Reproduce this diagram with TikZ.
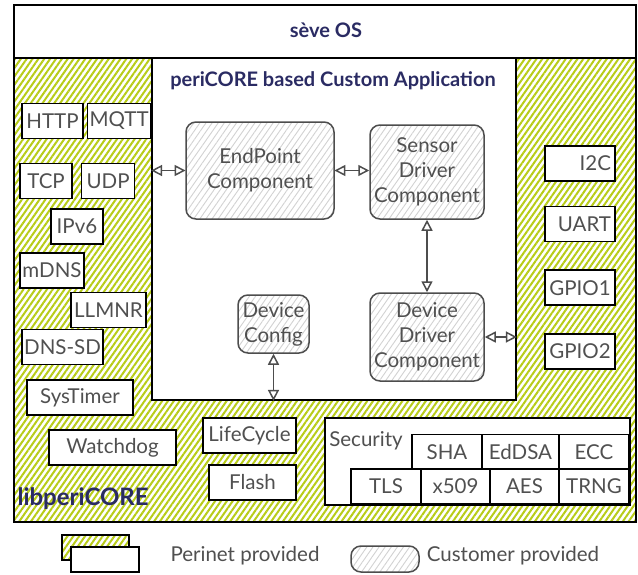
\documentclass[tikz,border=0pt]{standalone}
\usepackage{fontspec}
\setmainfont{Lato}
\usepackage{tikz}
\usetikzlibrary{arrows.meta, positioning, fit, patterns.meta}
\definecolor{hatchgreen}{HTML}{B8CC18}
\definecolor{custgray}{HTML}{D2D2D2}
\definecolor{linegray}{HTML}{4D4D4D}
\definecolor{txtgray}{HTML}{505050}
\definecolor{titleblue}{HTML}{2A2B63}
\tikzstyle{block} = [draw=black, line width=1.6pt, fill=white, text=txtgray, inner sep=2pt, minimum height=35pt]
\tikzstyle{custom} = [draw=linegray, line width=1.5pt, rounded corners=10pt, pattern={Lines[angle=55,distance=5pt,line width=0.9pt]}, pattern color=custgray, text=txtgray, align=center, inner sep=0pt]
\tikzstyle{lib} = [draw=black, line width=1.4pt, pattern={Lines[angle=55,distance=4.8pt,line width=2pt]}, pattern color=hatchgreen]
\tikzstyle{frame} = [draw=black, line width=1.8pt, fill=white, inner sep=0pt]
\tikzstyle{title} = [text=titleblue, font=\fontsize{20}{25}\selectfont\bfseries]
\tikzstyle{arrow} = [line width=1.5pt, draw=linegray, {Triangle[open,length=11pt,width=11pt]}-{Triangle[open,length=11pt,width=11pt]}]

\begin{document}
\begin{tikzpicture}[x=1pt, y=-1pt, font=\fontsize{20.5}{25}\selectfont]
        \useasboundingbox (0,0) rectangle (638,574);
        \fill[white] (0,0) rectangle (638,574);

        \node(lib) [lib, fit={(14,58) (636,522)}, inner sep=0pt] {};
        \node(seve) [frame, fit={(14,5) (636,58)}] {};
        \node(sevetitle) [title] at (326,30) {sève OS};
        \node(app) [frame, fit={(152,58) (516,400)}] {};
        \node(apptitle) [title] at (333,81) {periCORE based Custom Application};
        \node(libtitle) [title, font=\fontsize{24}{28}\selectfont\bfseries, anchor=west] at (14,499) {libperiCORE};

        \node(http) [block, minimum width=61pt] at (52.5,121) {HTTP};
        \node(mqtt) [block, minimum width=62pt, right=3pt of http] {MQTT};
        \node(tcp) [block, minimum width=52pt] at (46,181) {TCP};
        \node(udp) [block, minimum width=53pt, right=8pt of tcp] {UDP};
        \node(ipv6) [block, minimum width=52pt] at (77,226.5) {IPv6};
        \node(mdns) [block, minimum width=64pt] at (52,270.5) {mDNS};
        \node(llmnr) [block, minimum width=75pt] at (108.5,310) {LLMNR};
        \node(dnssd) [block, minimum width=81pt] at (62.5,347) {DNS-SD};
        \node(systimer) [block, minimum width=106pt] at (80,397.5) {SysTimer};
        \node(watchdog) [block, minimum width=127pt] at (112.5,447.5) {Watchdog};
        \node(lifecycle) [block, minimum width=93pt] at (249.5,435.5) {LifeCycle};
        \node(flash) [block, minimum width=87pt] at (252.5,482.5) {Flash};

        \node(i2c) [block, minimum width=70pt, text width=62pt, align=right] at (580,163.5) {I2C};
        \node(uart) [block, minimum width=70pt, text width=62pt, align=right, below=24pt of i2c] {UART};
        \node(gpio1) [block, minimum width=70pt, text width=66pt, align=center, below=27pt of uart] {GPIO1};
        \node(gpio2) [block, minimum width=70pt, text width=66pt, align=center, below=27pt of gpio1] {GPIO2};

        \node(endpoint) [custom, minimum width=148pt, minimum height=97pt] at (260,170.5) {EndPoint\\Component};
        \node(sensor) [custom, minimum width=114pt, minimum height=94pt] at (427,172) {Sensor\\Driver\\Component};
        \node(devdriver) [custom, minimum width=114pt, minimum height=88pt] at (427,337) {Device\\Driver\\Component};
        \node(devconfig) [custom, minimum width=71pt, minimum height=58pt] at (273.5,324) {Device\\Config};

        \draw[arrow] (endpoint.west -| app.west) -- (endpoint.west);
        \draw[arrow] (endpoint.east) -- (endpoint.east -| sensor.west);
        \draw[arrow] (sensor.south) -- (devdriver.north);
        \draw[arrow] (devdriver.east) -- (devdriver.east -| app.east);
        \draw[arrow] (devconfig.south) -- (devconfig.south |- app.south);

        \node(security) [frame, line width=1.6pt, fit={(325,418) (630,505)}] {};
        \node(seclabel) [text=txtgray] at (366,441) {Security};
        \node(sha) [block, minimum width=70pt] at (447,452) {SHA};
        \node(eddsa) [block, minimum width=77pt, right=-1.6pt of sha] {EdDSA};
        \node(ecc) [block, minimum width=70pt, right=-1.6pt of eddsa] {ECC};
        \node(tls) [block, minimum width=70pt] at (386,486.5) {TLS};
        \node(x509) [block, minimum width=69pt, right=-1.6pt of tls] {x509};
        \node(aes) [block, minimum width=69pt, right=-1.6pt of x509] {AES};
        \node(trng) [block, minimum width=70pt, right=-1.6pt of aes] {TRNG};

        \node(perihatch) [lib, minimum width=67pt, minimum height=25pt] at (95.5,547.5) {};
        \node(periwhite) [block, minimum width=68pt, minimum height=25pt] at (105,559.5) {};
        \node(perilabel) [text=txtgray] at (245,556) {Perinet provided};
        \node(custicon) [custom, minimum width=68pt, minimum height=26pt] at (385,559) {};
        \node(custlabel) [text=txtgray] at (513,556) {Customer provided};
\end{tikzpicture}
\end{document}
